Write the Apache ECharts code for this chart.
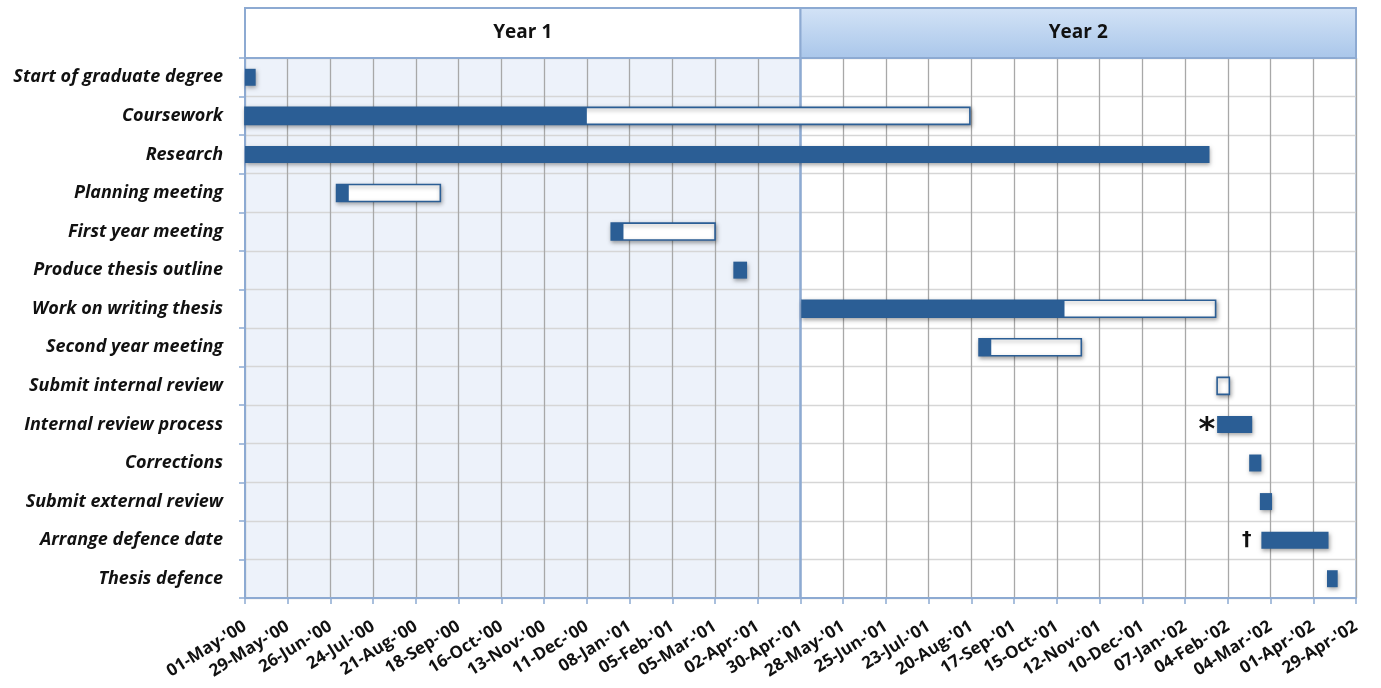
<!DOCTYPE html>
<html><head><meta charset="utf-8">
<script src="https://cdn.jsdelivr.net/npm/echarts@6/dist/echarts.min.js"></script>
<style>html,body{margin:0;background:#fff}#c{width:1381px;height:688px}</style>
</head><body><div id="c"></div>
<script>
// ---- data ----
const axisStartDate = '2000-05-01';
const axisEndDate = '2002-04-29';
const tickDays = 28;

const tasks = ['Start of graduate degree','Coursework','Research','Planning meeting','First year meeting',
  'Produce thesis outline','Work on writing thesis','Second year meeting','Submit internal review',
  'Internal review process','Corrections','Submit external review','Arrange defence date','Thesis defence'];
const taskStart = ['2000-05-01','2000-05-01','2000-05-01','2000-06-30','2000-12-27','2001-03-17','2001-05-01',
  '2001-08-25','2002-01-28','2002-01-28','2002-02-18','2002-02-25','2002-02-26','2002-04-10'];
const doneEnd = ['2000-05-08','2000-12-11','2002-01-23','2000-07-08','2001-01-04','2001-03-26','2001-10-20',
  '2001-09-02',null,'2002-02-20','2002-02-26','2002-03-05','2002-04-11','2002-04-17'];
const plannedEnd = [null,'2001-08-19',null,'2000-09-06','2001-03-05',null,'2002-01-27',
  '2001-10-31','2002-02-05',null,null,null,null,null];
const notes = ['','','','','','','','','','*','','','\u2020',''];

const years = ['Year 1','Year 2'];
const yearStart = ['2000-05-01','2001-04-30'];
const yearEnd = ['2001-04-30','2002-04-29'];

// ---- helpers ----
const MS = 86400000;
const T0 = Date.parse(axisStartDate + 'T00:00:00Z');
function dayOf(s){ return s == null ? -1 : Math.round((Date.parse(s + 'T00:00:00Z') - T0) / MS); }
const MON = ['Jan','Feb','Mar','Apr','May','Jun','Jul','Aug','Sep','Oct','Nov','Dec'];
function fmt(v){
  const d = new Date(T0 + v * MS);
  const dd = String(d.getUTCDate()).padStart(2,'0');
  const yy = String(d.getUTCFullYear() % 100).padStart(2,'0');
  return dd + '-' + MON[d.getUTCMonth()] + "-'" + yy;
}
const maxDay = dayOf(axisEndDate);
const BLUE = '#2B5E95';
const EDGE = '#8DAAD2';
const FONT = '"Open Sans"';

const taskData = tasks.map((t,i)=>[i, dayOf(taskStart[i]), dayOf(doneEnd[i]), dayOf(plannedEnd[i])]);
const yearData = years.map((y,i)=>[dayOf(yearStart[i]), dayOf(yearEnd[i]), 0, i]);

const shadow = {shadowBlur:4, shadowOffsetX:1, shadowOffsetY:2, shadowColor:'rgba(0,0,0,0.35)'};

const chart = echarts.init(document.getElementById('c'), null, {renderer:'canvas'});
chart.setOption({
  animation:false,
  backgroundColor:'#fff',
  grid:[
    {left:245, right:25, top:58, bottom:90, show:true, borderColor:'#A9C1E0', borderWidth:1.5, backgroundColor:'transparent'},
    {left:245, right:25, top:8, height:50}
  ],
  xAxis:[
    {gridIndex:0, type:'value', min:0, max:maxDay, interval:tickDays,
     axisLine:{show:true, onZero:false, lineStyle:{color:EDGE, width:2}},
     axisTick:{show:true, length:6, lineStyle:{color:EDGE, width:1.5}},
     axisLabel:{rotate:32, formatter:fmt, fontFamily:FONT, fontWeight:'bold', fontSize:17, color:'#111', margin:27, showMaxLabel:true, showMinLabel:true, hideOverlap:false},
     splitLine:{show:true, lineStyle:{color:'#A8A8A8', width:1.3}}},
    {gridIndex:1, type:'value', min:0, max:maxDay, show:false}
  ],
  yAxis:[
    {gridIndex:0, type:'category', data:tasks, inverse:true,
     axisLine:{show:true, onZero:false, lineStyle:{color:EDGE, width:2}},
     axisTick:{show:true, length:6, lineStyle:{color:EDGE, width:1.5}},
     axisLabel:{fontFamily:FONT, fontWeight:'bold', fontStyle:'italic', fontSize:18, color:'#111', margin:22},
     splitLine:{show:true, lineStyle:{color:'#D6D6D6', width:1.3}}},
    {gridIndex:1, type:'category', data:['Years'], show:false}
  ],
  series:[
    { // year 1 shaded background
      type:'custom', xAxisIndex:0, yAxisIndex:0, z:-5, silent:true,
      data:[[dayOf(yearStart[0]), dayOf(yearEnd[0])]],
      encode:{x:[0,1]},
      renderItem:function(params, api){
        const cs = params.coordSys;
        const x0 = api.coord([api.value(0), 0])[0];
        const x1 = api.coord([api.value(1), 0])[0];
        return {type:'rect', shape:{x:x0, y:cs.y, width:x1-x0, height:cs.height}, style:{fill:'#EDF2FA'}};
      }
    },
    { // year divider
      type:'custom', xAxisIndex:0, yAxisIndex:0, z:3, silent:true,
      data:[[dayOf(yearEnd[0])]],
      encode:{x:0},
      renderItem:function(params, api){
        const cs = params.coordSys;
        const x = api.coord([api.value(0), 0])[0];
        return {type:'line', shape:{x1:x, y1:cs.y, x2:x, y2:cs.y+cs.height}, style:{stroke:EDGE, lineWidth:2.5}};
      }
    },
    { // header
      type:'custom', xAxisIndex:1, yAxisIndex:1, silent:true,
      data:yearData, encode:{x:[0,1], y:2},
      renderItem:function(params, api){
        const i = api.value(3);
        const p0 = api.coord([api.value(0), 0]);
        const p1 = api.coord([api.value(1), 0]);
        const h = api.size([0,1])[1];
        const fill = i === 0 ? '#FFFFFF' : new echarts.graphic.LinearGradient(0,0,0,1,[{offset:0,color:'#D3E3F6'},{offset:1,color:'#A9C6EA'}]);
        return {type:'group', children:[
          {type:'rect', shape:{x:p0[0], y:p0[1]-h/2, width:p1[0]-p0[0], height:h},
           style:{fill:fill, stroke:EDGE, lineWidth:2}},
          {type:'text', x:(p0[0]+p1[0])/2, y:p0[1],
           style:{text:years[i], fill:'#111', font:'bold 19px ' + FONT, align:'center', verticalAlign:'middle'}}
        ]};
      }
    },
    { // tasks
      type:'custom', xAxisIndex:0, yAxisIndex:0, z:5,
      data:taskData, encode:{y:0, x:[1,2,3]},
      renderItem:function(params, api){
        const row = api.value(0), s = api.value(1), f = api.value(2), p = api.value(3);
        const c = api.coord([s, row]);
        const h = api.size([0,1])[1] * 0.44;
        const y = c[1] - h/2;
        const children = [];
        if (p >= 0) {
          const xe = api.coord([p, row])[0];
          children.push({type:'rect', shape:{x:c[0], y:y, width:xe-c[0], height:h},
            style:Object.assign({fill:'#fff', stroke:BLUE, lineWidth:1.6}, shadow)});
        }
        if (f >= 0) {
          const xe = api.coord([f, row])[0];
          children.push({type:'rect', shape:{x:c[0], y:y, width:xe-c[0], height:h},
            style:Object.assign({fill:BLUE}, p >= 0 ? {} : shadow)});
        }
        const note = notes[params.dataIndex];
        if (note) {
          const big = note === '*';
          children.push({type:'text', x:c[0] - (big ? 2 : 10), y:c[1] + (big ? 6 : 0),
            style:{text:note, fill:'#111', font:(big ? 'bold 32px "DejaVu Sans"' : 'bold 19px "DejaVu Sans"'),
              align:'right', verticalAlign:'middle'}});
        }
        return {type:'group', children:children};
      }
    }
  ]
});
</script></body></html>
